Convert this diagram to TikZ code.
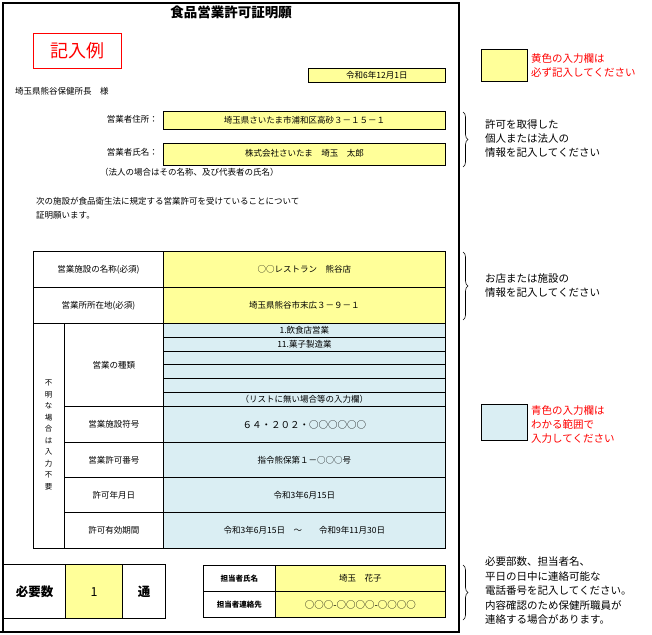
\documentclass[tikz,border=0pt]{standalone}
\usepackage{fontspec}
\setmainfont{Noto Sans CJK JP}
\usetikzlibrary{decorations.pathreplacing}
\definecolor{yel}{HTML}{FFFF99}
\definecolor{blu}{HTML}{DAEEF3}
\newcommand\bx[7]{\node[#1,anchor=north west,minimum width={(#4-#2)*1pt},minimum height={(#5-#3)*1pt},inner sep=0pt] (#6) at (#2,#3) {#7};}
\tikzset{
 cell/.style={draw,line width=0.8pt,font=\fontsize{8.5}{9}\selectfont},
 ycell/.style={cell,fill=yel},
 bcell/.style={cell,fill=blu},
 txt/.style={font=\fontsize{8.5}{9}\selectfont,inner sep=0pt},
 note/.style={font=\fontsize{10.5}{14}\selectfont,inner sep=0pt,align=left,anchor=west},
 rnote/.style={note,text=red},
 br/.style={decorate,decoration={brace,amplitude=5pt},line width=0.6pt}
}
\begin{document}
\begin{tikzpicture}[x=1pt,y=-1pt]
\useasboundingbox (0,0) rectangle (652,634);
% outer frame
\draw[line width=1.4pt] (3,633) -- (3,3) -- (459,3) -- (459,633);
\draw[line width=1.4pt] (0,632) -- (459,632);
\node[inner sep=0pt,font=\fontsize{13.5}{14}\selectfont\bfseries] (title) at (231,12) {食品営業許可証明願};
\bx{draw=red,line width=1.2pt,text=red,font=\fontsize{18}{18}\selectfont}{33}{33}{121}{68}{ex}{記入例}
\bx{ycell}{308}{68}{445}{82}{date}{令和6年12月1日}
\node[txt,anchor=west] (to) at (15,91) {埼玉県熊谷保健所長　様};
\node[txt,anchor=east] (l1) at (158,119) {営業者住所：};
\bx{ycell}{163}{111}{445}{129}{v1}{埼玉県さいたま市浦和区高砂３－１５－１}
\node[txt,anchor=east] (l2) at (158,152) {営業者氏名：};
\bx{ycell}{163}{143}{445}{165}{v2}{\raisebox{3pt}{株式会社さいたま　埼玉　太郎}}
\node[txt,anchor=west] (hj) at (100,172) {（法人の場合はその名称、及び代表者の氏名）};
\node[txt,anchor=west] (p1) at (36,201) {次の施設が食品衛生法に規定する営業許可を受けていることについて};
\node[txt,anchor=west] (p2) at (36,215) {証明願います。};
% table
\bx{cell}{33}{251}{163}{287}{a1}{営業施設の名称(必須)}
\bx{ycell}{163}{251}{445}{287}{b1}{○○レストラン　熊谷店}
\bx{cell}{33}{287}{163}{323}{a2}{営業所所在地(必須)}
\bx{ycell}{163}{287}{445}{323}{b2}{埼玉県熊谷市末広３－９－１}
\bx{cell}{33}{323}{64}{548}{vc}{}
\node[inner sep=0pt,align=center,font=\fontsize{7.5}{11.5}\selectfont] (vt) at (48.5,435) {不\\明\\な\\場\\合\\は\\入\\力\\不\\要};
\bx{cell}{64}{323}{163}{406}{a3}{営業の種類}
\bx{bcell}{163}{323}{445}{337}{s1}{1.飲食店営業}
\bx{bcell}{163}{337}{445}{351}{s2}{11.菓子製造業}
\bx{bcell}{163}{351}{445}{364}{s3}{}
\bx{bcell}{163}{364}{445}{378}{s4}{}
\bx{bcell}{163}{378}{445}{392}{s5}{}
\bx{bcell}{163}{392}{445}{406}{s6}{（リストに無い場合等の入力欄）}
\bx{cell}{64}{406}{163}{442}{a4}{営業施設符号}
\bx{bcell,font=\fontsize{9.5}{10}\selectfont}{163}{406}{445}{442}{b4}{６４・２０２・○○○○○○}
\bx{cell}{64}{442}{163}{477}{a5}{営業許可番号}
\bx{bcell}{163}{442}{445}{477}{b5}{指令熊保第１－○○○号}
\bx{cell}{64}{477}{163}{512}{a6}{許可年月日}
\bx{bcell}{163}{477}{445}{512}{b6}{令和3年6月15日}
\bx{cell}{64}{512}{163}{548}{a7}{許可有効期間}
\bx{bcell}{163}{512}{445}{548}{b7}{令和3年6月15日　～　　令和9年11月30日}
% bottom
\bx{cell,line width=1.2pt,font=\fontsize{12.5}{13}\selectfont\bfseries}{3}{564}{65}{618}{n1}{必要数}
\bx{ycell,line width=1.2pt,font=\fontsize{12.5}{13}\selectfont}{65}{564}{122}{618}{n2}{1}
\bx{cell,line width=1.2pt,font=\fontsize{12.5}{13}\selectfont\bfseries}{122}{564}{165}{618}{n3}{通}
\bx{cell,font=\fontsize{7.5}{8}\selectfont\bfseries}{203}{565}{275}{591}{c1}{担当者氏名}
\bx{ycell}{275}{565}{445}{591}{d1}{埼玉　花子}
\bx{cell,font=\fontsize{7.5}{8}\selectfont\bfseries}{203}{591}{275}{617}{c2}{担当者連絡先}
\bx{ycell,font=\fontsize{9.5}{10}\selectfont}{275}{591}{445}{617}{d2}{○○○-○○○○-○○○○}
% right notes
\bx{ycell}{481}{49}{527}{81}{ky}{}
\node[rnote] (kn) at (531,65) {黄色の入力欄は\\必ず記入してください};
\draw[br] (463,112) -- (463,167);
\node[note] (n1t) at (485,139) {許可を取得した\\個人または法人の\\情報を記入してください};
\draw[br] (463,252) -- (463,320);
\node[note] (n2t) at (485,286) {お店または施設の\\情報を記入してください};
\bx{bcell}{481}{404}{527}{440}{kb}{}
\node[rnote] (bn) at (531,425) {青色の入力欄は\\わかる範囲で\\入力してください};
\draw[br] (463,565) -- (463,620);
\node[note,font=\fontsize{10.5}{14.5}\selectfont] (n3t) at (485,591) {必要部数、担当者名、\\平日の日中に連絡可能な\\電話番号を記入してください。\\内容確認のため保健所職員が\\連絡する場合があります。};
\end{tikzpicture}
\end{document}
